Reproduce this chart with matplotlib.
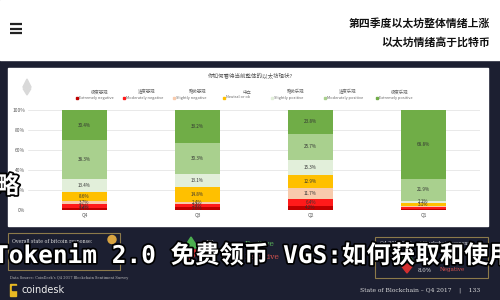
import matplotlib
matplotlib.use("Agg")
import matplotlib.pyplot as plt
import matplotlib.patheffects as pe
from matplotlib.patches import Rectangle, Circle, Polygon
import numpy as np

plt.rcParams['font.family'] = ['Noto Sans CJK SC', 'DejaVu Sans']

quarters = ['Q4', 'Q3', 'Q2', 'Q1']
extremely_negative = [2.4, 2.6, 4.2, 1.0]
moderately_negative = [3.2, 3.4, 6.4, 1.6]
slightly_negative = [3.7, 2.4, 11.7, 1.5]
neutral = [8.6, 14.8, 12.9, 3.1]
slightly_positive = [13.4, 13.1, 15.3, 2.1]
moderately_positive = [38.3, 30.3, 25.7, 21.9]
extremely_positive = [30.4, 33.2, 23.8, 68.8]

series_cn = ['极度悲观', '适度悲观', '略微悲观', '中立', '略微乐观', '适度乐观', '极度乐观']
series_en = ['Extremely negative', 'Moderately negative', 'Slightly negative', 'Neutral or ok',
             'Slightly positive', 'Moderately positive', 'Extremely positive']
series_colors = ['#c00000', '#ff1a1a', '#f8cbad', '#ffc000', '#e2efda', '#a9d08e', '#70ad47']
yticks = [0, 20, 40, 60, 80, 100]

chart_title = '你如何看待当前整体的以太坊现状?'
headline_1 = '第四季度以太坊整体情绪上涨'
headline_2 = '以太坊情绪高于比特币'
overlay_text = 'Tokenim 2.0 免费领币 VGS:如何获取和使用'

W, H = 500, 300
NAVY = '#1c1f31'


def fx(x):
    return x / W


def fy(y):
    return 1 - y / H


fig = plt.figure(figsize=(5, 3), dpi=100)
fig.patch.set_facecolor(NAVY)

# background canvas in pixel coords
bg = fig.add_axes([0, 0, 1, 1], zorder=-1)
bg.set_xlim(0, W)
bg.set_ylim(H, 0)
bg.axis('off')
bg.add_patch(Rectangle((0, 0), W, 60, color='white'))
bg.add_patch(Rectangle((8, 68), 480, 158, color='white'))
for yy in [24, 28.5, 33]:
    bg.plot([10, 22], [yy, yy], color='#222222', lw=1.6, solid_capstyle='butt')
bg.text(490, 24, headline_1, ha='right', va='center', fontsize=7.8, fontweight='bold', color='#111111')
bg.text(490, 42, headline_2, ha='right', va='center', fontsize=7.8, fontweight='bold', color='#111111')

# ethereum mark (faint)
bg.add_patch(Polygon([[27, 79], [23, 87], [27, 90], [31, 87]], closed=True, color='#d9d9d9'))
bg.add_patch(Polygon([[23, 88.5], [27, 95], [31, 88.5], [27, 91]], closed=True, color='#d9d9d9'))

bg.text(250, 76, chart_title, ha='center', va='center', fontsize=4, color='#555555')
leg_x = [100, 147, 197, 247, 295, 348, 400]
for x, cn, en, c in zip(leg_x, series_cn, series_en, series_colors):
    bg.text(x, 92, cn, ha='center', va='center', fontsize=3.2, color='#666666')
    bg.add_patch(Rectangle((x - 24, 96.5), 2, 2, color=c))
    bg.text(x - 21, 97.5, en, ha='left', va='center', fontsize=2.8, color='#666666')

# bottom boxes
bg.add_patch(Rectangle((8, 233), 112, 37, fill=False, ec='#8c7a4a', lw=0.8))
bg.text(12, 241, 'Overall state of bitcoin response:', fontsize=3.4, color='#dddddd',
        family='DejaVu Serif', va='center')
bg.add_patch(Circle((112, 239.5), 4, color='#d9a441'))
bg.add_patch(Polygon([[184, 248], [191, 237], [198, 248]], closed=True, color='#4caf50'))
bg.add_patch(Polygon([[184, 250], [191, 261], [198, 250]], closed=True, color='#d32f2f'))
bg.text(205, 243, '82', fontsize=5, color='#cccccc', family='DejaVu Serif', va='center')
bg.text(205, 256, '17', fontsize=5, color='#cccccc', family='DejaVu Serif', va='center')
bg.text(245, 244, 'Positive', fontsize=5.5, color='#5cb85c', family='DejaVu Serif', va='center')
bg.text(245, 257, 'Negative', fontsize=5.5, color='#d9534f', family='DejaVu Serif', va='center')
bg.add_patch(Rectangle((375, 237), 113, 41, fill=False, ec='#8c7a4a', lw=0.8))
bg.text(380, 243, 'Q4 2017 State of Blockchain response', fontsize=3.4, color='#dddddd',
        family='DejaVu Serif', va='center')
bg.add_patch(Polygon([[400, 262], [407, 252], [414, 262]], closed=True, color='#4caf50'))
bg.add_patch(Polygon([[400, 264], [407, 273], [414, 264]], closed=True, color='#d32f2f'))
bg.text(418, 270, '8.0%', fontsize=4, color='#dddddd', family='DejaVu Serif', va='center')
bg.text(440, 270, 'Negative', fontsize=4, color='#d9534f', family='DejaVu Serif', va='center')
bg.text(10, 278, "Data Source: CoinDesk's Q4 2017 Blockchain Sentiment Survey", fontsize=2.6,
        color='#bbbbbb', family='DejaVu Serif', va='center')
bg.add_patch(Rectangle((10, 284), 6, 12, color='#e8b923'))
bg.add_patch(Rectangle((12, 286), 6, 4, color=NAVY))
bg.text(22, 290, 'coindesk', fontsize=7, color='#eeeeee', family='DejaVu Sans', va='center')
bg.text(480, 290, 'State of Blockchain – Q4 2017    |    133', ha='right', fontsize=4.3,
        color='#dddddd', family='DejaVu Serif', va='center')

# stacked bar chart
ax = fig.add_axes([fx(28), fy(210), fx(452), 100 / H])
ax.set_facecolor('white')
x = np.arange(len(quarters))
series = [extremely_negative, moderately_negative, slightly_negative, neutral,
          slightly_positive, moderately_positive, extremely_positive]
bottom = np.zeros(len(quarters))
for vals, c in zip(series, series_colors):
    vals = np.array(vals)
    ax.bar(x, vals, bottom=bottom, width=0.4, color=c, zorder=2)
    for xi, v, b in zip(x, vals, bottom):
        if v >= 2:
            ax.text(xi, b + v / 2, f'{v:.1f}%', ha='center', va='center', fontsize=3.3,
                    color='#333333', zorder=3)
    bottom += vals
ax.set_xlim(-0.5, 3.5)
ax.set_ylim(0, 100)
ax.set_yticks(yticks)
ax.set_yticklabels([f'{t}%' for t in yticks])
ax.set_xticks(x)
ax.set_xticklabels(quarters)
ax.tick_params(length=0, labelsize=3.5, labelcolor='#555555', pad=2)
ax.grid(axis='y', color='#e0e0e0', lw=0.5, zorder=0)
for s in ax.spines.values():
    s.set_visible(False)

# overlay headline
fig.text(fx(-6), fy(256), overlay_text, ha='left', va='center', fontsize=17.6, fontweight='bold',
         color='white', family=['DejaVu Sans Mono', 'Noto Sans CJK SC'],
         path_effects=[pe.withStroke(linewidth=2.5, foreground='black')])
fig.text(fx(-4), fy(186), '略', ha='left', va='center', fontsize=17, fontweight='bold',
         color='white', path_effects=[pe.withStroke(linewidth=2.5, foreground='black')])

fig.savefig('out.png', dpi=100, facecolor=fig.get_facecolor())
